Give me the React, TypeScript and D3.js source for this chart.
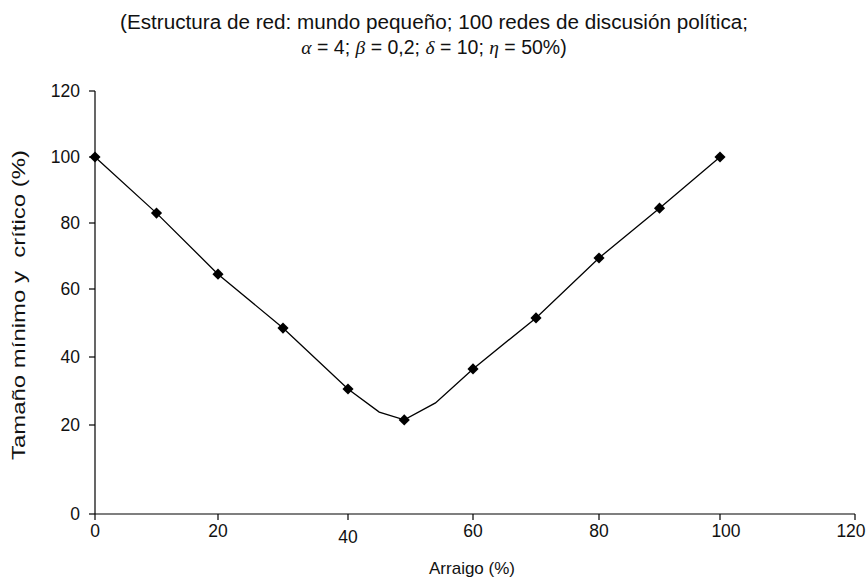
import React from "react";
import * as d3 from "d3";

// ---- data ----
const xTicks = [0, 20, 40, 60, 80, 100, 120];
const yTicks = [0, 20, 40, 60, 80, 100, 120];
// markers
const arraigo = [0, 10, 20, 30, 40, 49, 60, 70, 80, 90, 100];
const tamano = [100, 83, 64.5, 48.5, 30.6, 21.5, 36.5, 51.5, 69.4, 84.5, 100];
// line vertices (line has extra unmarked bends near the minimum)
const lineArraigo = [0, 10, 20, 30, 40, 45, 49, 54, 60, 70, 80, 90, 100];
const lineTamano = [100, 83, 64.5, 48.5, 30.6, 23.8, 21.5, 26.5, 36.5, 51.5, 69.4, 84.5, 100];

const titleLine1 = "(Estructura de red: mundo pequeño; 100 redes de discusión política;";
const xTitle = "Arraigo (%)";
const yTitle = "Tamaño mínimo y  crítico (%)";

const W = 867;
const H = 587;
// the original figure's axes are unevenly spaced, so the scales are piecewise
const xRange = [95, 218, 348, 473, 599, 720, 855];
const yRange = [514, 425, 357, 289, 223, 157, 91];

const sans = "'Liberation Sans', Arial, sans-serif";
const serif = "'Liberation Serif', 'DejaVu Serif', serif";

export default function App() {
  const x = d3.scaleLinear().domain(xTicks).range(xRange);
  const y = d3.scaleLinear().domain(yTicks).range(yRange);
  const linePts: [number, number][] = lineArraigo.map((a, i) => [a, lineTamano[i]]);
  const line = d3
    .line<[number, number]>()
    .x((d) => x(d[0]))
    .y((d) => y(d[1]));
  const sym = d3.symbol().type(d3.symbolSquare).size(62)();

  const x0 = x(0);
  const y0 = y(0);
  const labelShift = (t: number) => (t === 100 ? 6 : t === 120 ? -4 : 0);

  return (
    <svg
      width={W}
      height={H}
      style={{ position: "absolute", left: 0, top: 0, background: "#fff" }}
      fontFamily={sans}
    >
      <rect width={W} height={H} fill="#fff" />
      {/* title */}
      <text
        x={434}
        y={29}
        textAnchor="middle"
        fontSize={20}
        fill="#111"
        textLength={628}
        lengthAdjust="spacingAndGlyphs"
      >
        {titleLine1}
      </text>
      <text x={434} y={54} textAnchor="middle" fontSize={19.5} fill="#111">
        <tspan fontFamily={serif} fontStyle="italic">α</tspan>
        <tspan> = 4; </tspan>
        <tspan fontFamily={serif} fontStyle="italic">β</tspan>
        <tspan> = 0,2; </tspan>
        <tspan fontFamily={serif} fontStyle="italic">δ</tspan>
        <tspan> = 10; </tspan>
        <tspan fontFamily={serif} fontStyle="italic">η</tspan>
        <tspan> = 50%)</tspan>
      </text>

      {/* axes */}
      <line x1={x0} x2={x(120)} y1={y0} y2={y0} stroke="#000" strokeWidth={1.2} />
      <line x1={x0} x2={x0} y1={y0} y2={y(120)} stroke="#000" strokeWidth={1.2} />
      {yTicks.map((t) => (
        <g key={"y" + t}>
          <line x1={x0 - 6} x2={x0} y1={y(t)} y2={y(t)} stroke="#000" strokeWidth={1.2} />
          <text x={x0 - 15} y={y(t)} dy="0.36em" textAnchor="end" fontSize={17.5} fill="#111">
            {t}
          </text>
        </g>
      ))}
      {xTicks.map((t) => (
        <g key={"x" + t}>
          <line x1={x(t)} x2={x(t)} y1={y0} y2={y0 + 6} stroke="#000" strokeWidth={1.2} />
          <text
            x={x(t) + labelShift(t)}
            y={y0 + (t === 40 ? 23 : 17)}
            dy="0.36em"
            textAnchor="middle"
            fontSize={17.5}
            fill="#111"
          >
            {t}
          </text>
        </g>
      ))}
      <text x={472} y={568} dy="0.36em" textAnchor="middle" fontSize={17} fill="#111">
        {xTitle}
      </text>
      <text
        transform={`translate(18,305) rotate(-90)`}
        dy="0.36em"
        textAnchor="middle"
        fontSize={18.5}
        fill="#111"
        style={{ whiteSpace: "pre" }}
        textLength={310}
        lengthAdjust="spacingAndGlyphs"
      >
        {yTitle}
      </text>

      {/* series */}
      <path d={line(linePts) || ""} fill="none" stroke="#000" strokeWidth={1.3} />
      {arraigo.map((a, i) => (
        <path
          key={"m" + i}
          d={sym || ""}
          transform={`translate(${x(a)},${y(tamano[i])}) rotate(45)`}
          fill="#000"
        />
      ))}
    </svg>
  );
}
